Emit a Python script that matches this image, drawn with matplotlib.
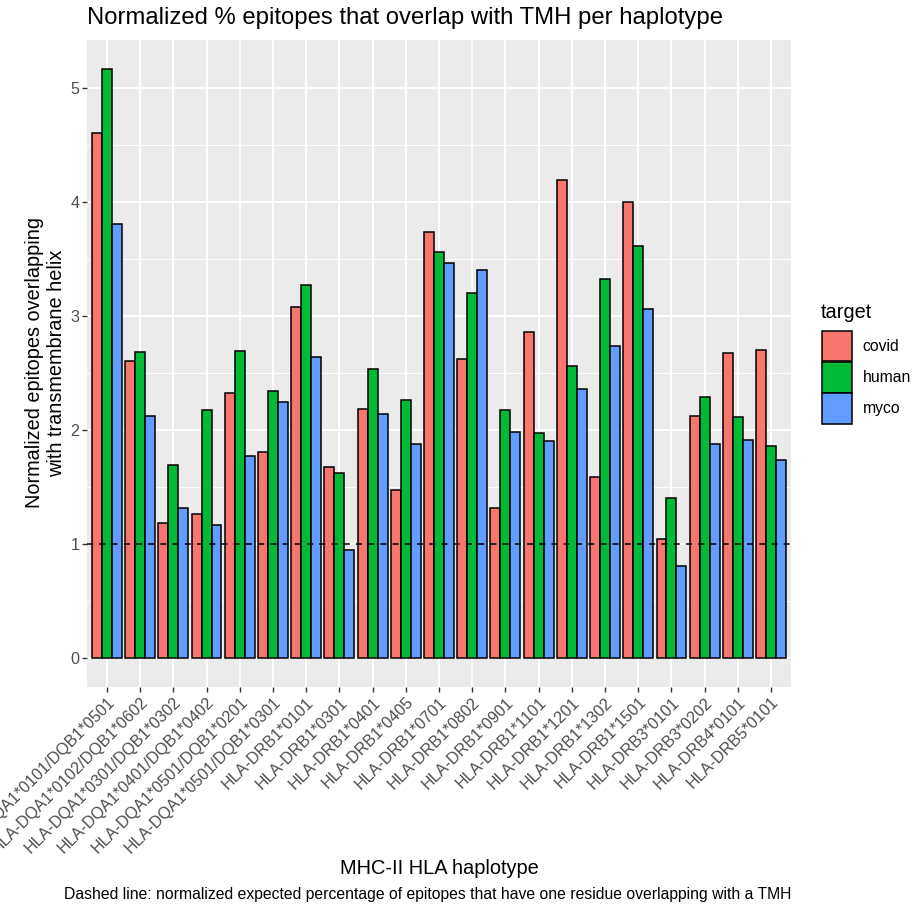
import numpy as np
import matplotlib
matplotlib.use("Agg")
from matplotlib import pyplot as plt
from matplotlib.patches import Patch

plt.rcParams['font.family'] = ['Liberation Sans', 'DejaVu Sans']

# ==============================
# data
# ==============================
haplotypes = [
    "HLA-DQA1*0101/DQB1*0501", "HLA-DQA1*0102/DQB1*0602", "HLA-DQA1*0301/DQB1*0302",
    "HLA-DQA1*0401/DQB1*0402", "HLA-DQA1*0501/DQB1*0201", "HLA-DQA1*0501/DQB1*0301",
    "HLA-DRB1*0101", "HLA-DRB1*0301", "HLA-DRB1*0401", "HLA-DRB1*0405",
    "HLA-DRB1*0701", "HLA-DRB1*0802", "HLA-DRB1*0901", "HLA-DRB1*1101",
    "HLA-DRB1*1201", "HLA-DRB1*1302", "HLA-DRB1*1501", "HLA-DRB3*0101",
    "HLA-DRB3*0202", "HLA-DRB4*0101", "HLA-DRB5*0101",
]
covid = [4.60, 2.60, 1.18, 1.26, 2.32, 1.80, 3.08, 1.67, 2.18, 1.47, 3.73,
         2.62, 1.31, 2.86, 4.19, 1.58, 4.00, 1.04, 2.12, 2.67, 2.70]
human = [5.16, 2.68, 1.69, 2.17, 2.69, 2.34, 3.27, 1.62, 2.53, 2.26, 3.56,
         3.20, 2.17, 1.97, 2.56, 3.32, 3.61, 1.40, 2.29, 2.11, 1.86]
myco = [3.80, 2.12, 1.31, 1.16, 1.77, 2.24, 2.64, 0.94, 2.14, 1.87, 3.46,
        3.40, 1.98, 1.90, 2.36, 2.73, 3.06, 0.80, 1.87, 1.91, 1.73]
targets = ["covid", "human", "myco"]
expected = 1.0

colors = ["#F8766D", "#00BA38", "#619CFF"]

# ==============================
# figure
# ==============================
W, H = 914, 907
fig = plt.figure(figsize=(W / 100, H / 100), dpi=100)
ax = fig.add_axes([87 / W, 1 - 687 / H, (791 - 87) / W, (687 - 40) / H])
ax.set_facecolor("#EBEBEB")

x = np.arange(1, len(haplotypes) + 1)
w = 0.3
for i, (vals, c) in enumerate(zip([covid, human, myco], colors)):
    ax.bar(x + (i - 1) * w, vals, width=w, color=c, edgecolor="black",
           linewidth=1.1, zorder=3)

ax.axhline(expected, color="black", linestyle=(0, (4, 4)), linewidth=1.1, zorder=4)

ymax = max(max(covid), max(human), max(myco))
ax.set_ylim(-0.05 * ymax, ymax * 1.05)
ax.set_xlim(0.4, len(haplotypes) + 0.6)

ax.set_yticks(range(0, 6))
ax.set_yticks(np.arange(0.5, 5.5, 1.0), minor=True)
ax.set_xticks(x)
ax.set_xticklabels(haplotypes, rotation=45, ha="right", va="top",
                   rotation_mode="anchor")
ax.grid(which="major", color="white", linewidth=1.4, zorder=0)
ax.grid(which="minor", axis="y", color="white", linewidth=0.7, zorder=0)
ax.set_axisbelow(True)
ax.tick_params(which="major", length=3.4, width=1.0, color="#333333",
               labelcolor="#4D4D4D", labelsize=11.6, pad=2)
ax.tick_params(which="minor", length=0)
for s in ax.spines.values():
    s.set_visible(False)

# ==============================
# texts
# ==============================
fig.text(87 / W, 1 - 18 / H, "Normalized % epitopes that overlap with TMH per haplotype",
         fontsize=17.2, ha="left", va="center")
fig.text(46 / W, 1 - 363 / H, "Normalized epitopes overlapping\nwith transmembrane helix",
         fontsize=14.3, rotation=90, ha="center", va="center", multialignment="center")
fig.text(439 / W, 1 - 868 / H, "MHC-II HLA haplotype", fontsize=14.4,
         ha="center", va="center")
fig.text(791 / W, 1 - 895 / H,
         "Dashed line: normalized expected percentage of epitopes that have one residue overlapping with a TMH",
         fontsize=11.3, ha="right", va="center")

# legend
fig.text(821 / W, 1 - 313 / H, "target", fontsize=14.4, ha="left", va="center")
handles = [Patch(facecolor=c, edgecolor="black", linewidth=1.1, label=t)
           for c, t in zip(colors, targets)]
leg = fig.legend(handles=handles, loc="upper left",
                 bbox_to_anchor=(822 / W, 1 - 331 / H), frameon=False,
                 fontsize=11.3, handlelength=1.9,
                 handleheight=2.6, labelspacing=0.05, handletextpad=0.7,
                 borderpad=0, borderaxespad=0)

fig.savefig("out.png", dpi=100)
